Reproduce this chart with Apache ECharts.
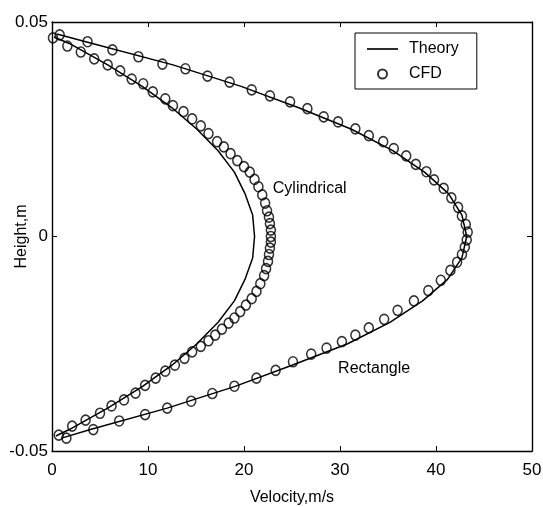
<!DOCTYPE html>
<html><head><meta charset="utf-8">
<script src="https://cdn.jsdelivr.net/npm/echarts@6/dist/echarts.min.js"></script>
<style>html,body{margin:0;padding:0;background:#fff}#c{width:543px;height:507px}</style>
</head><body><div id="c"></div>
<script>
// ---- data ----
const xTickLabels = ['0', '10', '20', '30', '40', '50'];
const yTickLabels = ['-0.05', '0', '0.05'];
const seriesNames = ['Theory', 'CFD'];

// [velocity m/s, height m]
const rectTheory = [
  [0.5, 0.0472], [4.2, 0.045], [12.6, 0.040], [19.7, 0.035], [25.7, 0.030], [31.2, 0.025],
  [35.5, 0.020], [38.8, 0.015], [41.3, 0.010], [42.7, 0.005], [43.2, 0.0],
  [42.7, -0.005], [41.2, -0.010], [38.6, -0.015], [35.2, -0.020], [30.8, -0.025],
  [25.0, -0.030], [19.0, -0.035], [12.0, -0.040], [4.0, -0.045], [1.0, -0.047]
];
const cylTheory = [
  [0.2, 0.0465], [1.8, 0.045], [5.8, 0.040], [9.4, 0.035], [12.5, 0.030], [15.1, 0.025],
  [17.3, 0.020], [19.0, 0.015], [20.1, 0.010], [20.9, 0.005], [21.1, 0.0],
  [20.9, -0.005], [20.1, -0.010], [19.0, -0.015], [17.3, -0.020], [15.1, -0.025],
  [12.5, -0.030], [9.4, -0.035], [5.8, -0.040], [1.8, -0.045], [0.4, -0.0465]
];
const rectCFD = [
  [0.8, 0.0470], [3.7, 0.0454], [6.3, 0.0435], [9.0, 0.0419], [11.5, 0.0402], [13.9, 0.0391],
  [16.2, 0.0374], [18.5, 0.0360], [20.8, 0.0342], [22.7, 0.0328], [24.8, 0.0314], [26.6, 0.0298],
  [28.3, 0.0279], [29.8, 0.0267], [31.6, 0.0251], [33.0, 0.0235], [34.5, 0.0221], [35.6, 0.0205],
  [36.9, 0.0188], [37.9, 0.0168], [39.0, 0.0151], [39.8, 0.0132], [40.8, 0.0112], [41.6, 0.0090],
  [42.3, 0.0068], [42.7, 0.0048], [43.1, 0.0028], [43.3, 0.0010],
  [43.2, -0.0008], [43.0, -0.0025], [42.7, -0.0042], [42.2, -0.0060], [41.5, -0.0079],
  [40.5, -0.0102], [39.2, -0.0126], [37.7, -0.0150], [36.0, -0.0172], [34.6, -0.0193],
  [33.0, -0.0213], [31.6, -0.0230], [30.2, -0.0245], [28.6, -0.0260], [27.0, -0.0274],
  [25.1, -0.0292], [23.3, -0.0312], [21.3, -0.0330], [19.0, -0.0349], [16.7, -0.0366],
  [14.5, -0.0384], [12.0, -0.0400], [9.7, -0.0415], [7.0, -0.0430], [4.3, -0.0450], [1.5, -0.0470]
];
const cylCFD = [
  [0.1, 0.0463], [1.6, 0.0444], [3.0, 0.0430], [4.4, 0.0414], [5.8, 0.0400], [7.1, 0.0386],
  [8.3, 0.0367], [9.5, 0.0356], [10.5, 0.0337], [11.8, 0.0321], [12.6, 0.0305], [13.7, 0.0291],
  [14.6, 0.0274], [15.5, 0.0258], [16.3, 0.0240], [17.2, 0.0221], [17.9, 0.0209], [18.6, 0.0193],
  [19.3, 0.0177], [20.0, 0.0163], [20.6, 0.0150], [21.1, 0.0133], [21.5, 0.0116], [21.9, 0.0097],
  [22.2, 0.0078], [22.4, 0.0060], [22.6, 0.0045], [22.7, 0.0030], [22.8, 0.0015], [22.8, 0.0],
  [22.8, -0.0013], [22.7, -0.0027], [22.6, -0.0042], [22.5, -0.0058], [22.3, -0.0075],
  [22.1, -0.0091], [21.7, -0.0110], [21.3, -0.0128], [20.8, -0.0145], [20.2, -0.0160],
  [19.6, -0.0175], [19.0, -0.0190], [18.4, -0.0202], [17.7, -0.0216], [17.0, -0.0230],
  [16.3, -0.0243], [15.5, -0.0256], [14.6, -0.0269], [13.8, -0.0284], [12.8, -0.0300],
  [11.8, -0.0314], [10.8, -0.0330], [9.7, -0.0347], [8.7, -0.0365], [7.5, -0.0381],
  [6.2, -0.0395], [5.0, -0.0412], [3.5, -0.0428], [2.1, -0.0442], [0.7, -0.0463]
];
const annotations = [
  { name: 'Cylindrical', value: [23.0, 0.0112] },
  { name: 'Rectangle', value: [29.8, -0.0308] }
];

// ---- chart ----
const FONT = 'Liberation Sans';
const chart = echarts.init(document.getElementById('c'), null, { renderer: 'canvas' });
const axisLine = { show: true, onZero: false, lineStyle: { color: '#000', width: 1.4 } };
const tick = { show: true, inside: true, length: 5, lineStyle: { color: '#000', width: 1 } };
const tickLabel = { color: '#000', fontFamily: FONT, fontSize: 17 };

const circleStyle = { color: 'rgba(0,0,0,0)', borderColor: '#000', borderWidth: 1.6 };

chart.setOption({
  animation: false,
  backgroundColor: '#fff',
  grid: { left: 52, right: 11, top: 22, bottom: 56, containLabel: false, outerBoundsMode: 'none' },
  legend: {
    orient: 'vertical', left: 355, top: 33,
    padding: [8, 18, 7, 12], itemGap: 9, itemWidth: 31, itemHeight: 9,
    borderColor: '#000', borderWidth: 1, backgroundColor: '#fff',
    textStyle: { color: '#000', fontFamily: FONT, fontSize: 16, padding: [0, 0, 0, 6] },
    data: [
      { name: seriesNames[0], icon: 'path://M0,0H30V1.6H0Z' },
      { name: seriesNames[1], icon: 'circle' }
    ]
  },
  xAxis: [
    {
      type: 'value', min: 0, max: 50, interval: 10, position: 'bottom',
      name: 'Velocity,m/s', nameLocation: 'middle', nameGap: 39, nameMoveOverlap: false,
      nameTextStyle: { color: '#000', fontFamily: FONT, fontSize: 16 },
      axisLine: axisLine, axisTick: tick,
      axisLabel: Object.assign({ margin: 11, formatter: (v, i) => xTickLabels[i] }, tickLabel),
      splitLine: { show: false }
    },
    {
      type: 'value', min: 0, max: 50, interval: 10, position: 'top',
      axisLine: axisLine, axisTick: tick, axisLabel: { show: false }, splitLine: { show: false }
    }
  ],
  yAxis: [
    {
      type: 'value', min: -0.05, max: 0.05, interval: 0.05, position: 'left',
      name: 'Height,m', nameLocation: 'middle', nameGap: 22, nameRotate: 90, nameMoveOverlap: false,
      nameTextStyle: { color: '#000', fontFamily: FONT, fontSize: 16 },
      axisLine: axisLine, axisTick: tick,
      axisLabel: Object.assign({ margin: 4, formatter: (v, i) => yTickLabels[i] }, tickLabel),
      splitLine: { show: false }
    },
    {
      type: 'value', min: -0.05, max: 0.05, interval: 0.05, position: 'right',
      axisLine: axisLine, axisTick: tick, axisLabel: { show: false }, splitLine: { show: false }
    }
  ],
  series: [
    {
      name: seriesNames[0], type: 'line', data: rectTheory, showSymbol: false, symbol: 'none',
      color: '#000', itemStyle: { color: '#000' }, lineStyle: { color: '#000', width: 1.5 }, z: 3
    },
    {
      name: seriesNames[0], type: 'line', data: cylTheory, showSymbol: false, symbol: 'none',
      color: '#000', itemStyle: { color: '#000' }, lineStyle: { color: '#000', width: 1.5 }, z: 3
    },
    {
      name: seriesNames[1], type: 'scatter', data: rectCFD, symbol: 'circle', symbolSize: [9, 10],
      itemStyle: circleStyle, z: 4
    },
    {
      name: seriesNames[1], type: 'scatter', data: cylCFD, symbol: 'circle', symbolSize: [9, 10],
      itemStyle: circleStyle, z: 4
    },
    {
      name: 'labels', type: 'scatter', data: annotations, symbolSize: 0, silent: true,
      label: {
        show: true, position: 'right', distance: 0, formatter: p => p.name,
        color: '#000', fontFamily: FONT, fontSize: 16, opacity: 1
      }
    }
  ]
});
</script>
</body></html>
